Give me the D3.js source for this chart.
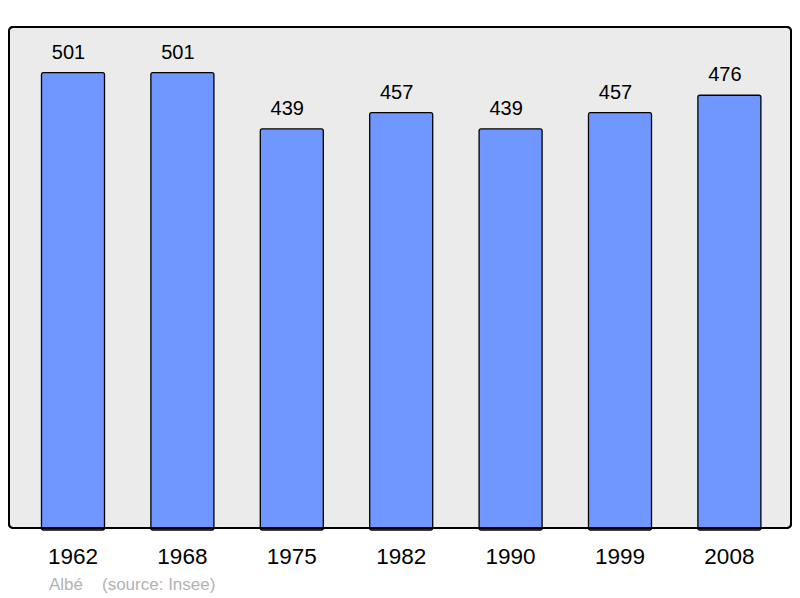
<!DOCTYPE html>
<html>
<head>
<meta charset="utf-8">
<script src="https://d3js.org/d3.v7.min.js"></script>
<style>
  body { margin: 0; background: #fff; }
  svg { display: block; font-family: "Liberation Sans", Arial, sans-serif; }
</style>
</head>
<body>
<div id="chart"></div>
<script>
// Data
var years = ["1962", "1968", "1975", "1982", "1990", "1999", "2008"];
var population = [501, 501, 439, 457, 439, 457, 476];
var footerName = "Albé";
var footerSource = "(source: Insee)";

var width = 800, height = 598;

var svg = d3.select("#chart")
  .append("svg")
    .attr("width", width)
    .attr("height", height);

// Plot frame
svg.append("rect")
  .attr("x", 9)
  .attr("y", 27)
  .attr("width", 782)
  .attr("height", 501)
  .attr("rx", 4)
  .attr("fill", "#ebebeb")
  .attr("stroke", "#000")
  .attr("stroke-width", 2);

// Scales
var x = d3.scaleBand()
  .domain(years)
  .range([18.3, 784.1])
  .paddingInner(0.424)
  .paddingOuter(0.212);

var y = d3.scaleLinear()
  .domain([0, 550])
  .range([528, 28]);

var data = years.map(function(d, i) { return {year: d, value: population[i]}; });

// Bars
svg.append("g")
  .selectAll("rect")
  .data(data)
  .enter()
  .append("rect")
    .attr("x", function(d) { return x(d.year); })
    .attr("y", function(d) { return y(d.value); })
    .attr("width", x.bandwidth())
    .attr("height", function(d) { return y(0) - y(d.value) + 2; })
    .attr("rx", 2)
    .attr("fill", "#7096ff")
    .attr("stroke", "#000")
    .attr("stroke-width", 1.3);

// Frame outline again on top so bar bottoms sit under it
svg.append("rect")
  .attr("x", 9)
  .attr("y", 27)
  .attr("width", 782)
  .attr("height", 501)
  .attr("rx", 4)
  .attr("fill", "none")
  .attr("stroke", "#000")
  .attr("stroke-width", 2);

// Value labels
svg.append("g")
  .selectAll("text")
  .data(data)
  .enter()
  .append("text")
    .attr("x", function(d) { return x(d.year) + x.bandwidth() / 2 - 4.5; })
    .attr("y", function(d) { return y(d.value) - 14; })
    .attr("text-anchor", "middle")
    .attr("font-size", 20)
    .attr("fill", "#000")
    .text(function(d) { return d.value; });

// Year labels
svg.append("g")
  .selectAll("text")
  .data(years)
  .enter()
  .append("text")
    .attr("x", function(d) { return x(d) + x.bandwidth() / 2; })
    .attr("y", 564)
    .attr("text-anchor", "middle")
    .attr("font-size", 22.5)
    .attr("fill", "#000")
    .text(function(d) { return d; });

// Footer
svg.append("text")
  .attr("x", 49)
  .attr("y", 590)
  .attr("font-size", 17)
  .attr("fill", "#b3b3b3")
  .text(footerName);

svg.append("text")
  .attr("x", 102)
  .attr("y", 590)
  .attr("font-size", 17)
  .attr("fill", "#b3b3b3")
  .text(footerSource);
</script>
</body>
</html>
